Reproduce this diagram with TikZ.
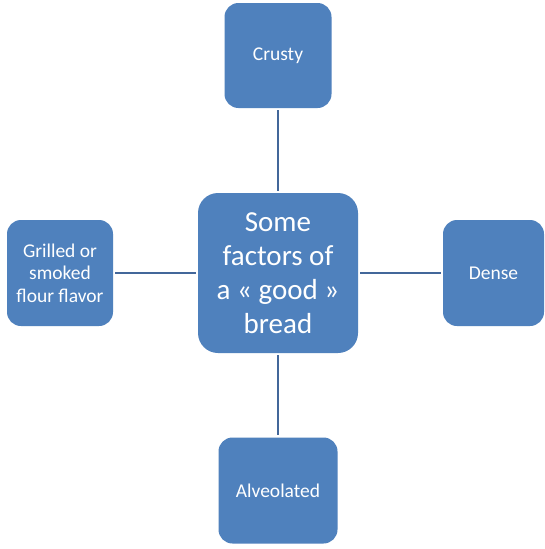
\documentclass[tikz,border=0pt]{standalone}
\usepackage{fontspec}
\setmainfont{Carlito}
\definecolor{boxblue}{HTML}{4F81BD}
\definecolor{lineblue}{HTML}{43679A}
\begin{document}
\begin{tikzpicture}[x=1pt,y=-1pt,
  box/.style={draw=none, fill=boxblue, rounded corners=14pt, text=white, align=center, inner sep=0pt, font=\fontsize{19.5}{22.5}\selectfont},
  link/.style={draw=lineblue, line width=2.2pt, shorten <=2pt, shorten >=2pt}]
\useasboundingbox[fill=white] (0,0) rectangle (544,549);
\node[box, minimum width=160pt, minimum height=160pt, rounded corners=20pt, font=\fontsize{29}{34}\selectfont] (c) at (278,273) {Some\\factors of\\a « good »\\bread};
\node[box, minimum width=107pt, minimum height=105pt] (t) at (278,55.5) {Crusty};
\node[box, minimum width=106pt, minimum height=106pt] (l) at (60,273) {Grilled or\\smoked\\flour flavor};
\node[box, minimum width=101pt, minimum height=106pt] (r) at (493.5,273) {Dense};
\node[box, minimum width=119pt, minimum height=106pt] (b) at (278,490.5) {Alveolated};
\draw[link] (t.south) -- (c.north);
\draw[link] (l.east) -- (c.west);
\draw[link] (c.east) -- (r.west);
\draw[link] (c.south) -- (b.north);
\end{tikzpicture}
\end{document}
